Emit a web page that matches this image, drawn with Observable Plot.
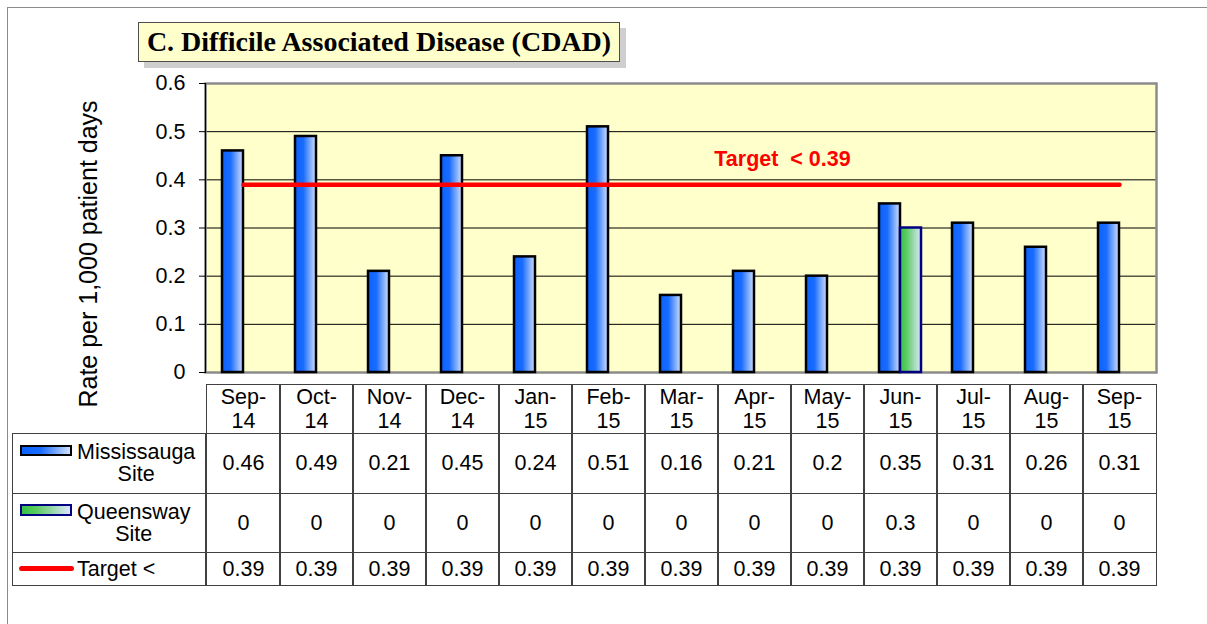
<!DOCTYPE html>
<html>
<head>
<meta charset="utf-8">
<script src="https://cdn.jsdelivr.net/npm/d3@7"></script>
<script src="https://cdn.jsdelivr.net/npm/@observablehq/plot@0.6"></script>
<style>
  html, body { margin: 0; padding: 0; background: #fff; overflow: hidden; }
  #wrap { position: relative; width: 1207px; height: 624px; font-family: "Liberation Sans", Arial, sans-serif; }
  #wrap svg { position: absolute; left: 0; top: 0; }
  .outer { position: absolute; left: 7px; top: 7px; width: 1240px; height: 660px; border: 1px solid #8c8c8c; pointer-events: none; }
  .title { position: absolute; left: 138px; top: 22px; width: 482px; height: 40px; box-sizing: border-box;
           background: #ffffcc; border: 1.5px solid #4d4d4d; box-shadow: 6px 6px 0 #cfcfcf;
           font-family: "Liberation Serif", "Times New Roman", serif; font-weight: bold; font-size: 28px;
           display: flex; align-items: center; justify-content: center; color: #000; white-space: nowrap; }
  .cell { position: absolute; box-sizing: border-box; border: 1px solid #404040; font-size: 21.5px; color: #000;
          display: flex; align-items: center; justify-content: center; text-align: center; line-height: 24px; }
  .lg { justify-content: flex-start; }
  .lgtext { position: absolute; left: 64px; text-align: center; line-height: 22px; }
  .sw { position: absolute; box-sizing: border-box; }
</style>
</head>
<body>
<div id="wrap"></div>
<script>
// ---- data ----
const title = "C. Difficile Associated Disease (CDAD)";
const yLabel = "Rate per 1,000 patient days";
const months = ["Sep-14","Oct-14","Nov-14","Dec-14","Jan-15","Feb-15","Mar-15","Apr-15","May-15","Jun-15","Jul-15","Aug-15","Sep-15"];
const mississauga = [0.46,0.49,0.21,0.45,0.24,0.51,0.16,0.21,0.2,0.35,0.31,0.26,0.31];
const queensway = [0,0,0,0,0,0,0,0,0,0.3,0,0,0];
const target = [0.39,0.39,0.39,0.39,0.39,0.39,0.39,0.39,0.39,0.39,0.39,0.39,0.39];
const yTicks = [0,0.1,0.2,0.3,0.4,0.5,0.6];
const seriesNames = ["Mississauga\nSite", "Queensway\nSite", "Target <"];
const targetLabel = "Target\u00a0 < 0.39";

// ---- layout ----
const W = 1207, H = 624;
const ml = 205, mr = 51, mt = 83, mb = 252;
const step = (W - ml - mr) / months.length;
const bw = 42;
const pIn = 1 - bw / step;

const rows = months.map((m, i) => ({month: m, m: mississauga[i], q: queensway[i], t: target[i]}));

const defs = () => {
  const ns = "http://www.w3.org/2000/svg";
  const d = document.createElementNS(ns, "defs");
  const mk = (id, stops) => {
    const g = document.createElementNS(ns, "linearGradient");
    g.setAttribute("id", id);
    g.setAttribute("x1", "0"); g.setAttribute("x2", "1"); g.setAttribute("y1", "0"); g.setAttribute("y2", "0");
    for (const [o, c] of stops) {
      const s = document.createElementNS(ns, "stop");
      s.setAttribute("offset", o); s.setAttribute("stop-color", c);
      g.appendChild(s);
    }
    d.appendChild(g);
  };
  mk("gBlue", [[0, "#0a62ff"], [0.4, "#1a6cff"], [1, "#d0e0ff"]]);
  mk("gGreen", [[0, "#35c245"], [0.3, "#5acb60"], [1, "#dde6ff"]]);
  return d;
};

const plot = Plot.plot({
  width: W, height: H,
  marginLeft: ml, marginRight: mr, marginTop: mt, marginBottom: mb,
  style: {fontFamily: "'Liberation Sans', Arial, sans-serif", fontSize: "21px", color: "#000", background: "transparent"},
  x: {type: "band", domain: months, paddingInner: pIn, paddingOuter: pIn / 2, axis: null},
  y: {domain: [0, 0.6], axis: null},
  marks: [
    defs,
    Plot.frame({fill: "#ffffcc"}),
    Plot.gridY(yTicks.filter(v => v > 0 && v < 0.6), {stroke: "#000", strokeOpacity: 1, strokeWidth: 1}),
    Plot.frame({stroke: "#8c8c8c", strokeWidth: 2.5}),
    Plot.frame({anchor: "left", stroke: "#000", strokeWidth: 1.2}),
    Plot.axisY({ticks: yTicks, tickSize: 6, tickPadding: 14, label: null, stroke: "#000", fontSize: 21.5, tickFormat: d => `${d}`}),
    Plot.barY(rows, {x: "month", y: "m", fill: "url(#gBlue)", stroke: "#000", strokeWidth: 2.5, insetRight: bw / 2}),
    Plot.barY(rows.filter(d => d.q > 0), {x: "month", y: "q", fill: "url(#gGreen)", stroke: "#000080", strokeWidth: 2.5, insetLeft: bw / 2}),
    Plot.lineY(rows, {x: "month", y: "t", stroke: "#ff0000", strokeWidth: 4.5}),
    Plot.text([targetLabel], {x: () => months[7], y: () => target[7], dx: 28, dy: -26, fill: "#ff0000", fontWeight: "bold", fontSize: 21.5}),
    Plot.text([yLabel], {frameAnchor: "left", rotate: -90, textAnchor: "middle", dx: -117, dy: 26, fontSize: 25, fill: "#000"})
  ]
});

const wrap = document.getElementById("wrap");
wrap.appendChild(plot);

const outer = document.createElement("div");
outer.className = "outer";
wrap.appendChild(outer);

const t = document.createElement("div");
t.className = "title";
t.textContent = title;
wrap.appendChild(t);

// ---- data table, columns aligned to the x scale ----
const sx = plot.scale("x");
const colLeft = m => sx.apply(m) + sx.bandwidth / 2 - step / 2;
const rowY = [384, 433, 492.5, 551.5, 584.5];
const legendLeft = 12;

function cell(x, y, w, h, html, cls) {
  const c = document.createElement("div");
  c.className = "cell" + (cls ? " " + cls : "");
  c.style.left = x + "px"; c.style.top = y + "px";
  c.style.width = (w + 1) + "px"; c.style.height = (h + 1) + "px";
  if (html != null) c.innerHTML = html;
  wrap.appendChild(c);
  return c;
}

months.forEach((m, i) => {
  const x = colLeft(m);
  const parts = m.split("-");
  cell(x, rowY[0], step, rowY[1] - rowY[0], parts[0] + "-<br>" + parts[1]);
  cell(x, rowY[1], step, rowY[2] - rowY[1], String(mississauga[i]));
  cell(x, rowY[2], step, rowY[3] - rowY[2], String(queensway[i]));
  cell(x, rowY[3], step, rowY[4] - rowY[3], String(target[i]));
});

const lw = ml - legendLeft;
const swatches = [
  {top: 11, h: 11, bg: "linear-gradient(to right, #0a62ff 0%, #1a6cff 40%, #d0e0ff 100%)", border: "2.5px solid #000"},
  {top: 10.5, h: 12, bg: "linear-gradient(to right, #35c245 0%, #5acb60 30%, #dde6ff 100%)", border: "2.5px solid #000080"},
  null
];
seriesNames.forEach((name, r) => {
  const c = cell(legendLeft, rowY[r + 1], lw, rowY[r + 2] - rowY[r + 1], null, "lg");
  const sw = document.createElement("div");
  sw.className = "sw";
  if (swatches[r]) {
    sw.style.left = "7px"; sw.style.top = swatches[r].top + "px";
    sw.style.width = "52px"; sw.style.height = swatches[r].h + "px";
    sw.style.background = swatches[r].bg; sw.style.border = swatches[r].border;
  } else {
    sw.style.left = "6px"; sw.style.top = "13px";
    sw.style.width = "55px"; sw.style.height = "5px";
    sw.style.background = "#ff0000"; sw.style.borderRadius = "3px";
  }
  c.appendChild(sw);
  const tx = document.createElement("div");
  tx.className = "lgtext";
  tx.innerHTML = name.split("\n").join("<br>");
  c.appendChild(tx);
});
</script>
</body>
</html>
